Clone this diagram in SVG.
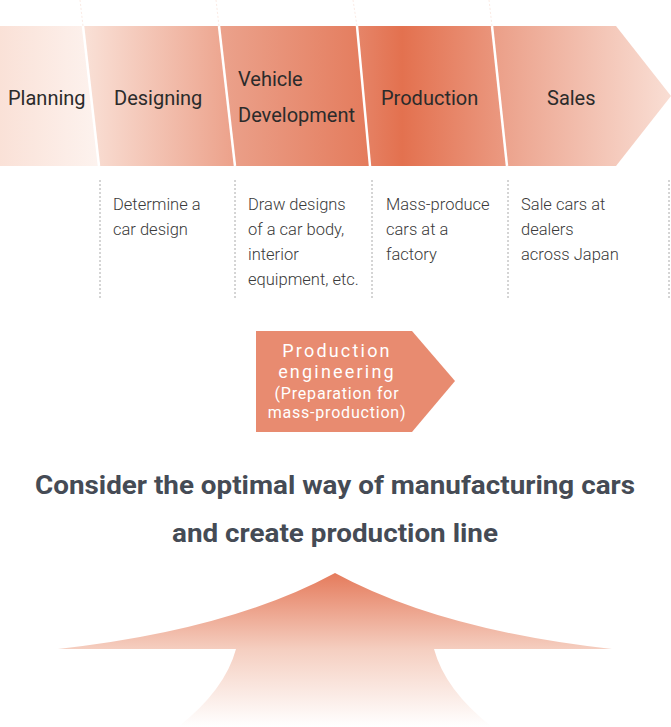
<svg xmlns="http://www.w3.org/2000/svg" width="671" height="727" viewBox="0 0 671 727">
<defs>
<linearGradient id="gPlan" x1="0" y1="0" x2="1" y2="0"><stop offset="0" stop-color="#fae1d7"/><stop offset="1" stop-color="#fdf3ef"/></linearGradient>
<linearGradient id="gDes" gradientUnits="userSpaceOnUse" x1="85" y1="0" x2="235" y2="0"><stop offset="0" stop-color="#f9e0d6"/><stop offset="1" stop-color="#eca18a"/></linearGradient>
<linearGradient id="gVeh" gradientUnits="userSpaceOnUse" x1="220" y1="0" x2="370" y2="0"><stop offset="0" stop-color="#eba28c"/><stop offset="1" stop-color="#e47b5c"/></linearGradient>
<linearGradient id="gPro" gradientUnits="userSpaceOnUse" x1="357" y1="0" x2="507" y2="0"><stop offset="0" stop-color="#e68569"/><stop offset="0.3" stop-color="#e3714f"/><stop offset="1" stop-color="#eb9a82"/></linearGradient>
<linearGradient id="gSal" gradientUnits="userSpaceOnUse" x1="492" y1="0" x2="671" y2="0"><stop offset="0" stop-color="#eb9e87"/><stop offset="1" stop-color="#f9ded4"/></linearGradient>
<linearGradient id="gUp" x1="0" y1="0" x2="0" y2="1"><stop offset="0" stop-color="#e57b5c"/><stop offset="0.5" stop-color="#f5cfc1"/><stop offset="1" stop-color="#ffffff"/></linearGradient>
<style>
.lbl{font-family:Roboto,"Liberation Sans",sans-serif;font-size:20px;fill:#2b2b2b}
.desc{font-family:Roboto,"Liberation Sans",sans-serif;font-weight:300;font-size:16.5px;fill:#3a3a3a}
.dot{stroke:#aaa;stroke-width:1;stroke-dasharray:2 2;fill:none}
.topdot{stroke:#fbebe5;stroke-width:1;stroke-dasharray:2 2;fill:none}
.sep{stroke:#fff;stroke-width:2.5}
.pe{font-family:Roboto,"Liberation Sans",sans-serif;fill:#fff;text-anchor:middle}
.big{font-family:Roboto,"Liberation Sans",sans-serif;font-weight:700;font-size:26px;fill:#454b55}
</style>
</defs>
<g id="connectors">
<line class="topdot" x1="80" y1="0" x2="83" y2="26"/>
<line class="topdot" x1="216" y1="0" x2="219" y2="26"/>
<line class="topdot" x1="353" y1="0" x2="357" y2="26"/>
<line class="topdot" x1="489" y1="0" x2="492" y2="26"/>
<line class="dot" x1="100" y1="180" x2="100" y2="300"/>
<line class="dot" x1="235" y1="180" x2="235" y2="300"/>
<line class="dot" x1="372" y1="180" x2="372" y2="300"/>
<line class="dot" x1="508" y1="180" x2="508" y2="300"/>
<line class="dot" x1="669" y1="180" x2="669" y2="300"/>
</g>
<g id="planning">
<polygon points="0,26 84,26 100,166 0,166" fill="url(#gPlan)"/>
<text class="lbl" x="8" y="105">Planning</text>
</g>
<g id="designing">
<polygon points="83,26 220,26 236,166 99,166" fill="url(#gDes)"/>
<text class="lbl" x="114" y="105">Designing</text>
<text class="desc" x="113" y="210">Determine a</text>
<text class="desc" x="113" y="235">car design</text>
</g>
<g id="vehicle-development">
<polygon points="219,26 358,26 371,166 235,166" fill="url(#gVeh)"/>
<text class="lbl" x="238" y="86">Vehicle</text>
<text class="lbl" x="238" y="122">Development</text>
<text class="desc" x="248" y="210">Draw designs</text>
<text class="desc" x="248" y="235">of a car body,</text>
<text class="desc" x="248" y="260">interior</text>
<text class="desc" x="248" y="285">equipment, etc.</text>
</g>
<g id="production">
<polygon points="357,26 493,26 508,166 370,166" fill="url(#gPro)"/>
<text class="lbl" x="381" y="105">Production</text>
<text class="desc" x="386" y="210">Mass-produce</text>
<text class="desc" x="386" y="235">cars at a</text>
<text class="desc" x="386" y="260">factory</text>
</g>
<g id="sales">
<polygon points="492,26 616,26 671,96 616,166 507,166" fill="url(#gSal)"/>
<text class="lbl" x="547" y="105">Sales</text>
<text class="desc" x="521" y="210">Sale cars at</text>
<text class="desc" x="521" y="235">dealers</text>
<text class="desc" x="521" y="260">across Japan</text>
</g>
<g id="separators">
<line class="sep" x1="83" y1="26" x2="99" y2="166"/>
<line class="sep" x1="219" y1="26" x2="235" y2="166"/>
<line class="sep" x1="357" y1="26" x2="370" y2="166"/>
<line class="sep" x1="492" y1="26" x2="507" y2="166"/>
</g>
<g id="production-engineering">
<polygon points="256,331 412,331 455,381 412,432 256,432" fill="#e88b70"/>
<text class="pe" x="337" y="357" font-size="18" letter-spacing="2.2">Production</text>
<text class="pe" x="337" y="378" font-size="18" letter-spacing="2.2">engineering</text>
<text class="pe" x="337" y="399" font-size="16" letter-spacing="0.8">(Preparation for</text>
<text class="pe" x="337" y="418" font-size="16" letter-spacing="0.8">mass-production)</text>
</g>
<g id="headline">
<text class="big" x="35" y="494" textLength="600" lengthAdjust="spacingAndGlyphs">Consider the optimal way of manufacturing cars</text>
<text class="big" x="172" y="542" textLength="326" lengthAdjust="spacingAndGlyphs">and create production line</text>
</g>
<g id="up-arrow">
<path d="M335,573 Q230,630 58,649 L236,649 Q225,690 178,727 L492,727 Q445,690 434,649 L612,649 Q440,630 335,573 Z" fill="url(#gUp)"/>
</g>
</svg>
